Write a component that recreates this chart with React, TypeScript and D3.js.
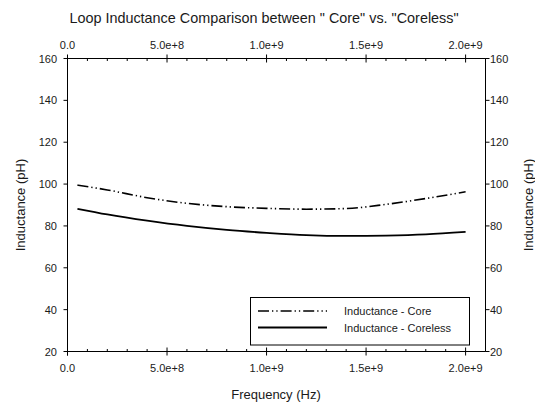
import React from "react";
import * as d3 from "d3";

const freqs = [5e7, 2e8, 4e8, 6e8, 8e8, 1e9, 1.2e9, 1.4e9, 1.6e9, 1.8e9, 2e9];
const coreValues = [99.5, 97.2, 93.5, 90.8, 89.2, 88.4, 88.0, 88.3, 90.3, 93.1, 96.3];
const corelessValues = [88.2, 85.5, 82.5, 80.0, 78.1, 76.7, 75.6, 75.2, 75.4, 76.0, 77.2];
const xMajorTicks = [0, 5e8, 1e9, 1.5e9, 2e9];
const xTickLabels = ["0.0", "5.0e+8", "1.0e+9", "1.5e+9", "2.0e+9"];
const yTicks = [20, 40, 60, 80, 100, 120, 140, 160];
const seriesNames = ["Inductance - Core", "Inductance - Coreless"];
const title = 'Loop Inductance Comparison between " Core" vs. "Coreless"';

const W = 535;
const H = 404;
const left = 67.5;
const right = 485.5;
const top = 58.5;
const bottom = 351.5;
const font = "'Liberation Sans', Arial, sans-serif";
const textColor = "#1a1a1a";
const coreDash = "11 3 1.3 3 1.3 3";

export default function App() {
  const x = d3.scaleLinear().domain([0, 2.1e9]).range([left, right]);
  const y = d3.scaleLinear().domain([20, 160]).range([bottom, top]);
  const minorTicks = d3.range(0, 2.1e9 + 1, 1e8).filter((v) => !xMajorTicks.some((m) => Math.abs(m - v) < 1));

  const line = d3
    .line<number>()
    .x((_, i) => x(freqs[i]))
    .y((d) => y(d))
    .curve(d3.curveMonotoneX);

  return (
    <svg
      width={W}
      height={H}
      style={{ position: "absolute", left: 0, top: 0, background: "#fff" }}
      fontFamily={font}
    >
      <rect x={0} y={0} width={W} height={H} fill="#fff" />
      <text x={264} y={23} textAnchor="middle" fontSize={14.4} fill={textColor}>
        {title}
      </text>

      {/* frame lines */}
      <g stroke="#000" strokeWidth={1} fill="none">
        <line x1={left} x2={right} y1={bottom} y2={bottom} />
        <line x1={left} x2={right} y1={top} y2={top} />
        <line x1={left} x2={left} y1={top} y2={bottom + 4} />
        <line x1={right} x2={right} y1={top} y2={bottom} />
        {xMajorTicks.map((t) => (
          <g key={"M" + t}>
            <line x1={x(t)} x2={x(t)} y1={bottom - 4} y2={bottom + 4} />
            <line x1={x(t)} x2={x(t)} y1={top - 4} y2={top + 4} />
          </g>
        ))}
        {minorTicks.map((t) => (
          <g key={"m" + t}>
            <line x1={x(t)} x2={x(t)} y1={bottom - 2.5} y2={bottom} />
            <line x1={x(t)} x2={x(t)} y1={top} y2={top + 2.5} />
          </g>
        ))}
        {yTicks.map((t) => (
          <g key={"y" + t}>
            <line x1={left - 4} x2={left} y1={y(t)} y2={y(t)} />
            <line x1={right} x2={right + 4} y1={y(t)} y2={y(t)} />
          </g>
        ))}
      </g>

      {/* tick labels */}
      <g fontSize={11} fill={textColor}>
        {xMajorTicks.map((t, i) => (
          <g key={"xl" + t}>
            <text x={x(t)} y={372} textAnchor="middle">
              {xTickLabels[i]}
            </text>
            <text x={x(t)} y={49} textAnchor="middle">
              {xTickLabels[i]}
            </text>
          </g>
        ))}
        {yTicks.map((t) => (
          <g key={"yl" + t}>
            <text x={57} y={y(t) + 4} textAnchor="end">
              {t}
            </text>
            <text x={490} y={y(t) + 4} textAnchor="start">
              {t}
            </text>
          </g>
        ))}
      </g>

      {/* axis titles */}
      <g fontSize={13} fill={textColor}>
        <text x={276} y={399} textAnchor="middle">
          Frequency (Hz)
        </text>
        <text transform="translate(24.5,205) rotate(-90)" textAnchor="middle">
          Inductance (pH)
        </text>
        <text transform="translate(532.5,205) rotate(-90)" textAnchor="middle">
          Inductance (pH)
        </text>
      </g>

      {/* series */}
      <path d={line(coreValues) || ""} fill="none" stroke="#000" strokeWidth={1.6} strokeDasharray={coreDash} />
      <path d={line(corelessValues) || ""} fill="none" stroke="#000" strokeWidth={1.8} />

      {/* legend */}
      <rect x={250.5} y={297.5} width={219} height={47.5} fill="#fff" stroke="#000" strokeWidth={1} />
      <line x1={258} x2={327} y1={311} y2={311} stroke="#000" strokeWidth={1.6} strokeDasharray={coreDash} />
      <line x1={258} x2={327} y1={327.5} y2={327.5} stroke="#000" strokeWidth={1.8} />
      <g fontSize={11} fill={textColor}>
        <text x={344} y={315}>
          {seriesNames[0]}
        </text>
        <text x={344} y={331.5}>
          {seriesNames[1]}
        </text>
      </g>
    </svg>
  );
}
